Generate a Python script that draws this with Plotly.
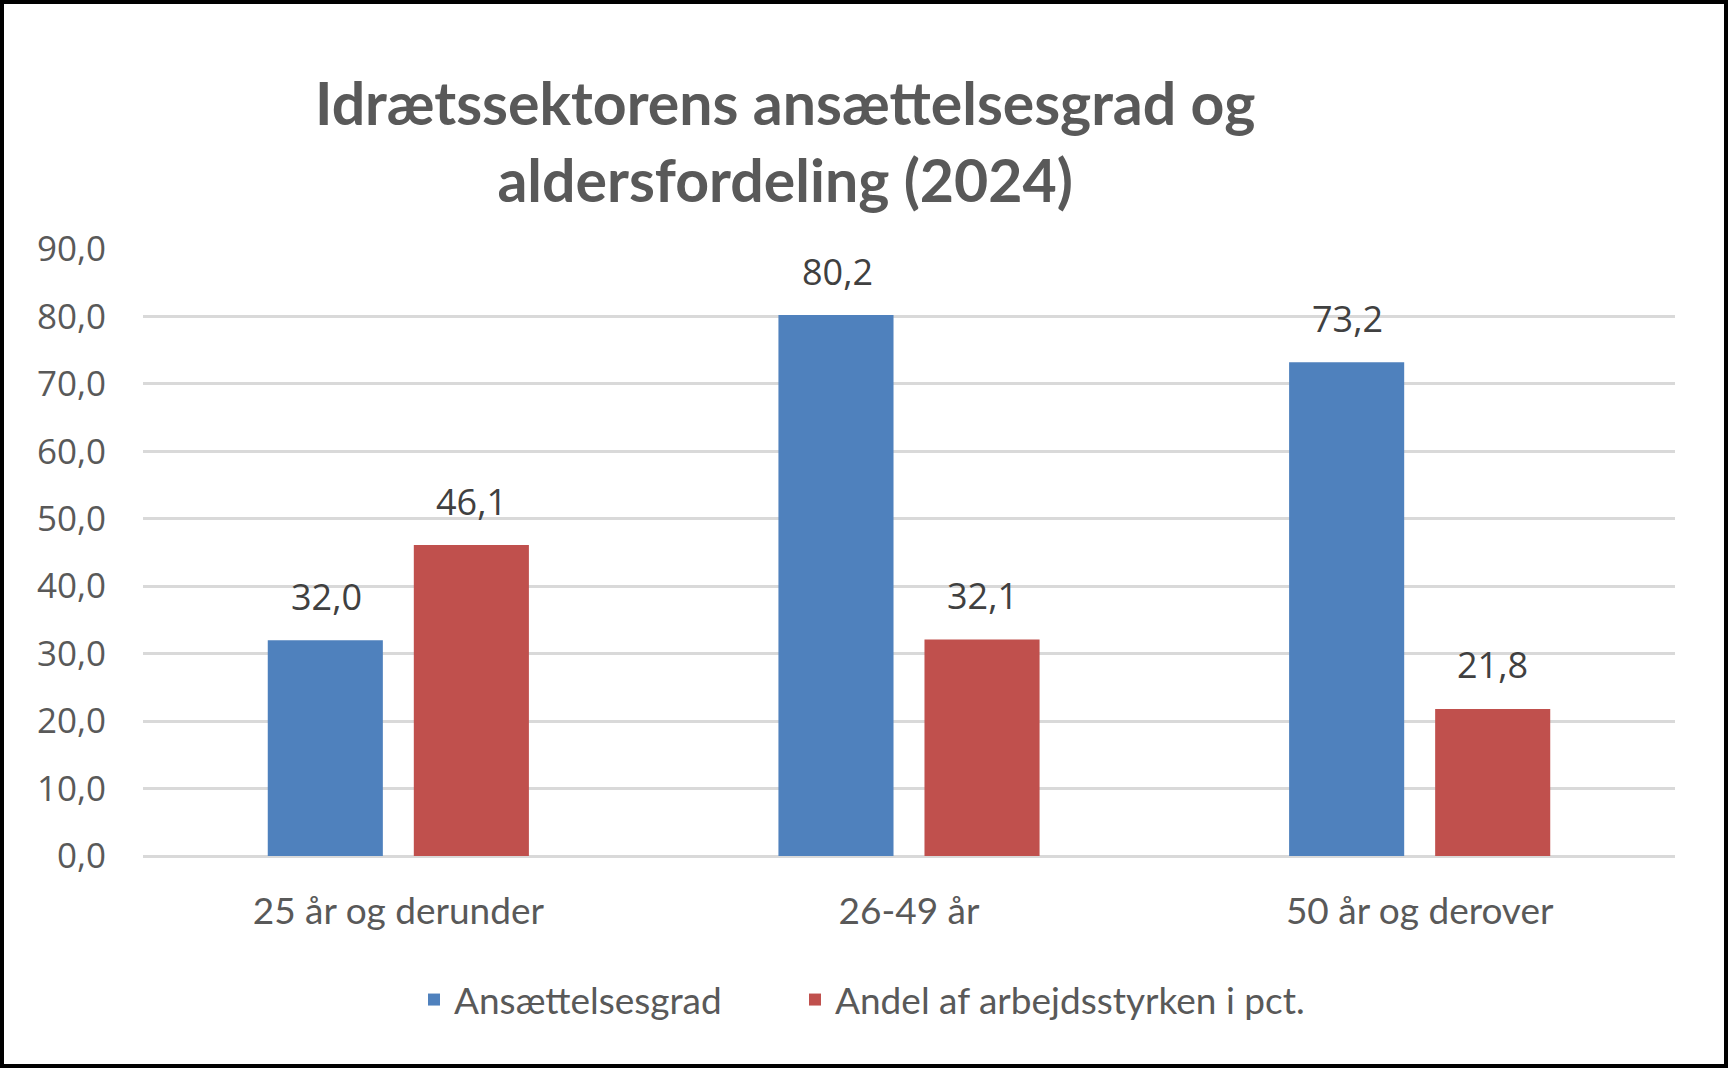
import plotly.graph_objects as go

categories = ["25 år og derunder", "26-49 år", "50 år og derover"]
series_names = ["Ansættelsesgrad", "Andel af arbejdsstyrken i pct."]
ansaettelsesgrad = [32.0, 80.2, 73.2]
andel_arbejdsstyrke = [46.1, 32.1, 21.8]
series_values = [ansaettelsesgrad, andel_arbejdsstyrke]
series_colors = ["#4f81bd", "#c0504d"]
tick_vals = [0, 10, 20, 30, 40, 50, 60, 70, 80, 90]
tick_text = ["0,0", "10,0", "20,0", "30,0", "40,0", "50,0", "60,0", "70,0", "80,0", "90,0"]
title_text = "Idrætssektorens ansættelsesgrad og<br>aldersfordeling (2024)"

W, H = 1728, 1068
ML, MR, MT, MB = 143, 53, 249, 212
PW, PH = W - ML - MR, H - MT - MB

def fmt(v):
    return f"{v:.1f}".replace(".", ",")

legend_ids = ["legend", "legend2"]
legend_left_px = [414, 795]

fig = go.Figure()
for name, vals, col, lg in zip(series_names, series_values, series_colors, legend_ids):
    fig.add_trace(go.Bar(
        x=categories, y=vals, name=name, legend=lg,
        marker=dict(color=col, line=dict(width=0)),
    ))

annotations = []
shifts = [-72, 73]
for vals, xs in zip(series_values, shifts):
    for c, v in zip(categories, vals):
        annotations.append(dict(
            x=c, y=v, xref="x", yref="y", text=fmt(v), showarrow=False,
            xshift=xs, yshift=44, yanchor="middle", xanchor="center",
            font=dict(family="Open Sans", size=36, color="#404040"),
        ))

annotations.append(dict(
    x=(785 - ML) / PW, y=1.1777, xref="paper", yref="paper",
    text=title_text, showarrow=False, xanchor="center", yanchor="middle",
    align="center",
    font=dict(family="Lato", size=59, color="#595959", weight="bold"),
))

legend_font = dict(family="Lato", size=37, color="#595959")
legend_common = dict(
    orientation="h", xanchor="left", y=(856 - 1000) / PH, yanchor="middle",
    font=legend_font, bgcolor="rgba(0,0,0,0)", borderwidth=0,
)

fig.update_layout(
    width=W, height=H,
    margin=dict(l=ML, r=MR, t=MT, b=MB, pad=0),
    paper_bgcolor="white", plot_bgcolor="white",
    barmode="group", bargap=0.428, bargroupgap=0.212,
    showlegend=True,
    legend=dict(x=(legend_left_px[0] - ML) / PW, **legend_common),
    legend2=dict(x=(legend_left_px[1] - ML) / PW, **legend_common),
    xaxis=dict(
        showgrid=False, showline=False, zeroline=False, ticks="",
        tickfont=dict(family="Lato", size=37, color="#595959"),
        ticklabelstandoff=30,
    ),
    yaxis=dict(
        range=[0, 90], tickvals=tick_vals, ticktext=tick_text,
        showgrid=True, gridcolor="#d9d9d9", gridwidth=2.6,
        zeroline=True, zerolinecolor="#d9d9d9", zerolinewidth=2.6,
        showline=False, ticks="",
        tickfont=dict(family="Open Sans", size=35, color="#595959"),
        ticklabelstandoff=36,
    ),
    annotations=annotations,
    shapes=[dict(
        type="rect", xref="paper", yref="paper",
        x0=(2 - ML) / PW, x1=(W - 2 - ML) / PW,
        y0=(MT + PH - (H - 2)) / PH, y1=(MT + PH - 2) / PH,
        line=dict(color="black", width=4), fillcolor="rgba(0,0,0,0)",
        layer="above",
    )],
)

fig.write_html(
    "out.html",
    config={"displayModeBar": False},
    post_script="document.body.style.margin='0';document.body.style.overflow='hidden';",
)
